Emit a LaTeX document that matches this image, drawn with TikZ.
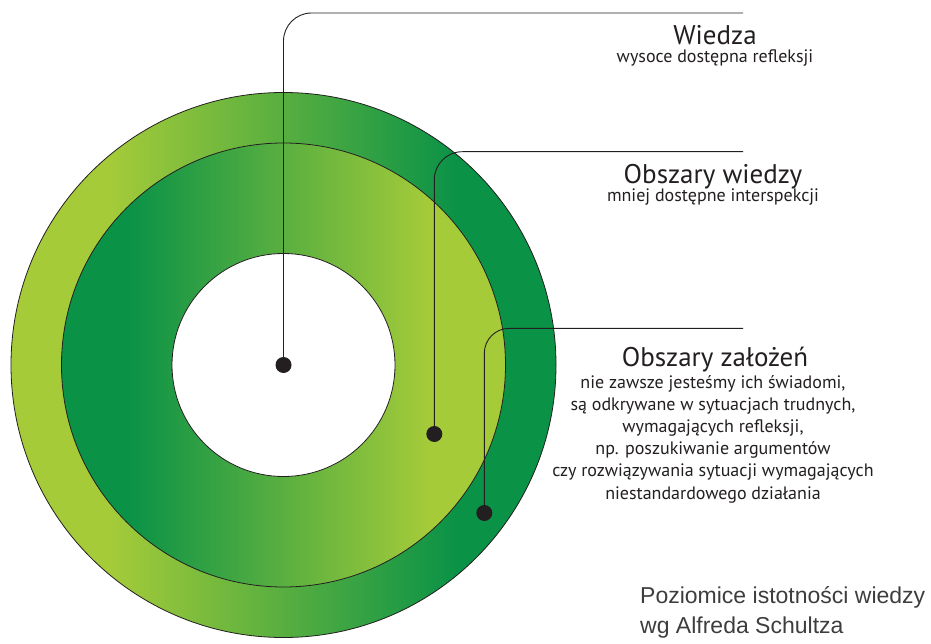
\documentclass[tikz,border=0pt]{standalone}
\usepackage{fontspec}
\setmainfont{PT Sans}
\newfontfamily\capfont{Liberation Sans}
\definecolor{lg}{HTML}{A5CB39}
\definecolor{dg}{HTML}{0A9247}
\definecolor{ink}{HTML}{231F20}
\definecolor{capgray}{HTML}{3D3D3D}
\pgfdeclarehorizontalshading{ringshade}{100bp}{color(0bp)=(lg); color(34bp)=(lg); color(66bp)=(dg); color(100bp)=(dg)}
\pgfdeclarehorizontalshading{diskshade}{100bp}{color(0bp)=(dg); color(32.5bp)=(dg); color(66.5bp)=(lg); color(100bp)=(lg)}
\tikzset{
  ringline/.style={draw=ink, line width=0.8pt},
  dot/.style={circle, fill=ink, inner sep=0pt, minimum size=16pt},
  conn/.style={draw=ink, line width=0.9pt, rounded corners=28pt},
  headtxt/.style={font=\fontsize{27}{32}\selectfont, text=ink, anchor=base, inner sep=0pt},
  subtxt/.style={font=\fontsize{18}{22.2}\selectfont, text=ink, anchor=base, inner sep=0pt, align=center},
  captxt/.style={font=\capfont\fontsize{23}{30}\selectfont, text=capgray, anchor=base west, inner sep=0pt}
}
\begin{document}
\begin{tikzpicture}[x=1pt,y=-1pt]
\useasboundingbox (0,0) rectangle (931,644);
% rings
\path[ringline, shading=ringshade] (283.5,365) circle[radius=272.5pt];
\path[ringline, shading=diskshade] (283.5,365) circle[radius=222pt];
\path[ringline, fill=white] (283.5,365) circle[radius=111.5pt];
% dots
\node[dot] (d1) at (283.5,365) {};
\node[dot] (d2) at (434.3,434) {};
\node[dot] (d3) at (484.3,513) {};
% line ends
\coordinate (e1) at (743,13);
\coordinate (e2) at (743,151.7);
\coordinate (e3) at (743,328.3);
\draw[conn] (d1) |- (e1);
\draw[conn] (d2) |- (e2);
\draw[conn, rounded corners=25pt] (d3) |- (e3);
% texts
\node[headtxt] (t1) at (715,44.5) {Wiedza};
\node[subtxt] (s1) at (715,63) {wysoce dostępna refleksji};
\node[headtxt] (t2) at (713,183.3) {Obszary wiedzy};
\node[subtxt] (s2) at (713,202) {mniej dostępne interspekcji};
\node[headtxt] (t3) at (715,366) {Obszary założeń};
\node[subtxt] (s3) at (713,499) {nie zawsze jesteśmy ich świadomi,\\ są odkrywane w sytuacjach trudnych,\\ wymagających refleksji,\\ np. poszukiwanie argumentów\\ czy rozwiązywania sytuacji wymagających\\ niestandardowego działania};
\node[captxt] (c1) at (640,603) {Poziomice istotności wiedzy};
\node[captxt] (c2) at (640,633) {wg Alfreda Schultza};
\end{tikzpicture}
\end{document}
